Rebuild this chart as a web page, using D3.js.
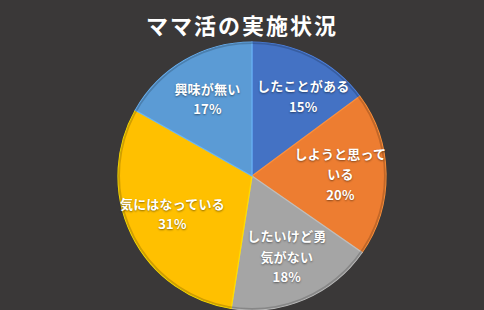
<!DOCTYPE html>
<html>
<head>
<meta charset="utf-8">
<script src="https://cdn.jsdelivr.net/npm/d3@7"></script>
<style>
  html, body { margin: 0; padding: 0; background: #3a3838; }
  svg { display: block; }
  .lbl { text-shadow: 0 1px 2px rgba(0,0,0,0.45); }
</style>
</head>
<body>
<div id="chart"></div>
<script>
// data
const title = 'ママ活の実施状況';
const categories = ['したことがある', 'しようと思っている', 'したいけど勇気がない', '気にはなっている', '興味が無い'];
const values = [15, 20, 18, 31, 17];
const colors = ['#4472c4', '#ed7d31', '#a5a5a5', '#ffc000', '#5b9bd5'];
// where each label wraps (0 = no wrap)
const wrapAt = [0, 7, 6, 0, 0];

const width = 484, height = 310;
const cx = 252, cy = 176, r = 134;

const svg = d3.select('#chart').append('svg')
    .attr('width', width)
    .attr('height', height)
    .style('font-family', '"Noto Sans CJK JP", "Noto Sans", sans-serif');

svg.append('rect').attr('width', width).attr('height', height).attr('fill', '#3a3838');

svg.append('text')
    .attr('x', 242).attr('y', 34)
    .attr('text-anchor', 'middle')
    .attr('fill', '#fff')
    .attr('font-size', 22)
    .attr('font-weight', 700)
    .attr('letter-spacing', 2)
    .text(title);

const data = categories.map((c, i) => ({ name: c, value: values[i], color: colors[i], wrap: wrapAt[i] }));

const pie = d3.pie().sort(null).value(d => d.value);
const arcs = pie(data);
const arc = d3.arc().innerRadius(0).outerRadius(r);
const labelArc = d3.arc().innerRadius(r * 0.66).outerRadius(r * 0.66);

const g = svg.append('g').attr('transform', `translate(${cx},${cy})`);

g.selectAll('path.slice')
    .data(arcs)
    .join('path')
    .attr('class', 'slice')
    .attr('d', arc)
    .attr('fill', d => d.data.color)
    .attr('stroke', d => d3.color(d.data.color).brighter(0.4))
    .attr('stroke-width', 1.2);

// soft dark rim
g.append('circle')
    .attr('r', r - 1)
    .attr('fill', 'none')
    .attr('stroke', 'rgba(0,0,0,0.18)')
    .attr('stroke-width', 2);

const lineH = 20.5;
g.selectAll('text.lbl')
    .data(arcs)
    .join('text')
    .attr('class', 'lbl')
    .attr('text-anchor', 'middle')
    .attr('fill', '#fff')
    .attr('font-size', 13)
    .attr('font-weight', 700)
    .attr('letter-spacing', 0.2)
    .each(function(d) {
        const name = d.data.name;
        const lines = d.data.wrap ? [name.slice(0, d.data.wrap), name.slice(d.data.wrap)] : [name];
        lines.push(d.data.value + '%');
        const [x, y] = labelArc.centroid(d);
        const y0 = y - (lines.length - 1) * lineH / 2;
        const t = d3.select(this);
        lines.forEach((ln, i) => {
            t.append('tspan')
                .attr('x', x)
                .attr('y', y0 + i * lineH)
                .attr('dy', '0.35em')
                .text(ln);
        });
        // keep upper labels off the top dividing line
        const bb = this.getBBox();
        if (y < 0 && bb.x < 5 && bb.x + bb.width > -5) {
            const shift = x > 0 ? 5 - bb.x : -5 - (bb.x + bb.width);
            t.selectAll('tspan').attr('x', x + shift);
        }
    });
</script>
</body>
</html>
